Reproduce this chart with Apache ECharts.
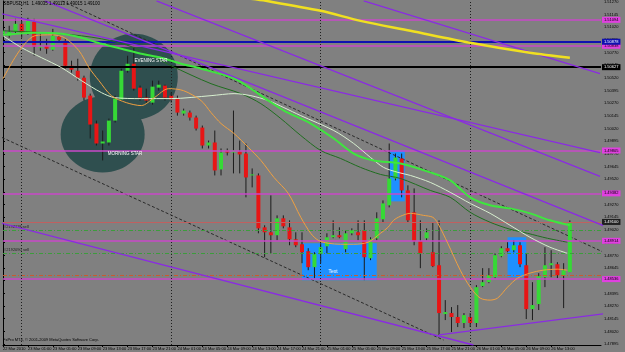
<!DOCTYPE html>
<html><head><meta charset="utf-8">
<script src="https://cdn.jsdelivr.net/npm/echarts@6/dist/echarts.min.js"></script>
<style>html,body{margin:0;padding:0;background:#808080}#c{width:625px;height:352px}</style>
</head><body><div id="c"></div>
<script>
// ---- data ----
const timeLabels = ["22 Mar 2010","23 Mar 01:00","23 Mar 05:00","23 Mar 09:00","23 Mar 13:00","23 Mar 17:00","23 Mar 21:00","24 Mar 01:00","24 Mar 05:00","24 Mar 09:00","24 Mar 13:00","24 Mar 17:00","24 Mar 21:00","25 Mar 01:00","25 Mar 05:00","25 Mar 09:00","25 Mar 13:00","25 Mar 17:00","25 Mar 21:00","26 Mar 01:00","26 Mar 05:00","26 Mar 09:00","26 Mar 13:00"];
const timeTickBars = [0,4,8,12,16,20,24,28,32,36,40,44,48,52,56,60,64,68,72,76,80,84,88];
const priceTicks = [1.47895,1.48020,1.48145,1.48270,1.48395,1.48520,1.48645,1.48770,1.48895,1.49020,1.49145,1.49270,1.49395,1.49520,1.49645,1.49770,1.49895,1.50020,1.50145,1.50270,1.50395,1.50520,1.50645,1.50770,1.50895,1.51020,1.51145,1.51270];
const priceMin = 1.47886, priceMax = 1.51281;
// [open, close, low, high] per H1 bar
const candles = [
 [1.50956,1.50986,1.50937,1.51005],[1.50937,1.50976,1.50917,1.51035],[1.50976,1.51055,1.50956,1.51104],[1.51055,1.50956,1.50917,1.51084],
 [1.50956,1.51084,1.50946,1.51114],[1.51074,1.50828,1.50740,1.51104],[1.50819,1.50838,1.50789,1.50956],[1.50838,1.50809,1.50759,1.50907],
 [1.50799,1.50937,1.50789,1.51005],[1.50927,1.50897,1.50868,1.50937],[1.50887,1.50641,1.50612,1.50907],[1.50641,1.50602,1.50573,1.50691],
 [1.50592,1.50523,1.50494,1.50710],[1.50523,1.50327,1.50297,1.50543],[1.50346,1.50061,1.49923,1.50366],[1.50071,1.49874,1.49854,1.50100],
 [1.49874,1.49894,1.49707,1.50002],[1.49884,1.50100,1.49854,1.50120],[1.50100,1.50317,1.50081,1.50346],[1.50307,1.50592,1.50297,1.50612],
 [1.50592,1.50661,1.50573,1.50740],[1.50661,1.50415,1.50395,1.50858],[1.50425,1.50327,1.50297,1.50445],[1.50327,1.50297,1.50277,1.50415],
 [1.50277,1.50435,1.50258,1.50494],[1.50425,1.50454,1.50395,1.50494],[1.50445,1.50327,1.50297,1.50454],[1.50346,1.50307,1.50277,1.50376],
 [1.50317,1.50179,1.50149,1.50346],[1.50169,1.50199,1.50149,1.50218],[1.50179,1.50130,1.50100,1.50199],[1.50130,1.50021,1.50002,1.50149],
 [1.50031,1.49854,1.49825,1.50051],[1.49854,1.49884,1.49825,1.49903],[1.49884,1.49608,1.49559,1.50002],[1.49618,1.49785,1.49559,1.49825],
 [1.49805,1.49785,1.49756,1.49825],[1.49785,1.49805,1.49579,1.50199],[1.49795,1.49766,1.49579,1.49903],[1.49775,1.49539,1.49343,1.49874],
 [1.49559,1.49569,1.49441,1.49628],[1.49559,1.49037,1.48988,1.49579],[1.49047,1.48998,1.48752,1.49067],[1.48998,1.48969,1.48791,1.49362],
 [1.48969,1.49136,1.48919,1.49165],[1.49136,1.49057,1.49037,1.49165],[1.49047,1.48929,1.48870,1.49116],[1.48929,1.48870,1.48851,1.48998],
 [1.48880,1.48801,1.48693,1.48998],[1.48811,1.48654,1.48624,1.48841],[1.48654,1.48782,1.48545,1.48801],[1.48782,1.48851,1.48693,1.48890],
 [1.48860,1.48949,1.48791,1.48988],[1.48949,1.48969,1.48939,1.49116],[1.48969,1.48949,1.48939,1.49047],[1.48831,1.48988,1.48801,1.49018],
 [1.48988,1.49018,1.48969,1.49037],[1.48998,1.48969,1.48919,1.49116],[1.49018,1.48752,1.48526,1.49116],[1.48742,1.48929,1.48723,1.48949],
 [1.48939,1.49136,1.48919,1.49195],[1.49126,1.49283,1.49097,1.49313],[1.49264,1.49529,1.49244,1.49874],[1.49529,1.49736,1.49510,1.49775],
 [1.49726,1.49411,1.49343,1.49775],[1.49411,1.49116,1.49097,1.49461],[1.49195,1.48910,1.48870,1.49431],[1.48910,1.48791,1.48644,1.49116],
 [1.48939,1.48998,1.48919,1.49037],[1.48801,1.48664,1.48654,1.49097],[1.48673,1.48201,1.47985,1.49116],[1.48191,1.48211,1.48132,1.48329],
 [1.48201,1.48162,1.48014,1.48260],[1.48162,1.48103,1.48063,1.48280],[1.48103,1.48181,1.48053,1.48201],[1.48162,1.48103,1.48063,1.48201],
 [1.48103,1.48457,1.48063,1.48477],[1.48467,1.48506,1.48457,1.48644],[1.48506,1.48575,1.48496,1.48644],[1.48555,1.48772,1.48545,1.48791],
 [1.48762,1.48841,1.48752,1.48860],[1.48841,1.48811,1.48801,1.48900],[1.48821,1.48870,1.48801,1.48919],[1.48870,1.48683,1.48654,1.48900],
 [1.48673,1.48240,1.48142,1.48791],[1.48240,1.48280,1.48132,1.48506],[1.48290,1.48565,1.48231,1.48595],[1.48555,1.48673,1.48457,1.48851],
 [1.48673,1.48693,1.48555,1.48821],[1.48683,1.48575,1.48545,1.48703],[1.48575,1.48624,1.48250,1.48693],[1.48605,1.49097,1.48605,1.49116]
];
// moving averages: [bar, price]
const maOrange = [[0,1.50514],[1.9,1.50720],[3.5,1.50858],[5.1,1.50937],[7.8,1.50946],[9.9,1.50917],[12.2,1.50789],[13.8,1.50622],[15.4,1.50494],[17.4,1.50346],[19.8,1.50277],[22.2,1.50248],[24.3,1.50327],[26.6,1.50415],[29,1.50395],[31.8,1.50297],[33.4,1.50179],[35,1.50071],[37.1,1.49972],[39.4,1.49835],[41.4,1.49707],[43.5,1.49539],[45.8,1.49382],[47.8,1.49146],[49.4,1.48988],[50.6,1.48919],[52.2,1.48890],[54.2,1.48880],[56.3,1.48880],[58.6,1.48900],[60.6,1.48988],[61.8,1.49047],[62.7,1.49116],[63.8,1.49156],[65.4,1.49185],[67.5,1.49165],[69,1.49146],[69.8,1.49087],[71.4,1.48890],[73.4,1.48624],[75,1.48457],[76.6,1.48349],[78.2,1.48329],[79.4,1.48349],[81,1.48457],[82.6,1.48545],[84.6,1.48595],[86.7,1.48624],[89,1.48634],[90.6,1.48624]];
const maPale = [[0,1.50937],[3,1.50819],[6.2,1.50720],[9.4,1.50622],[12.6,1.50494],[15.8,1.50376],[17.9,1.50327],[22.2,1.50317],[27,1.50317],[33.4,1.50346],[37.1,1.50366],[39.8,1.50346],[42.6,1.50297],[45.1,1.50228],[47.8,1.50149],[53.1,1.50002],[56.3,1.49874],[59,1.49736],[61.1,1.49638],[63.4,1.49589],[65.4,1.49559],[68.6,1.49490],[71.8,1.49392],[75,1.49283],[78.2,1.49185],[81.4,1.49067],[84.6,1.48949],[87.8,1.48851],[90.6,1.48791]];
const maGreen = [[0,1.50946],[5.1,1.50966],[9.4,1.50956],[12.6,1.50917],[15.8,1.50858],[19,1.50809],[22.2,1.50759],[25.4,1.50720],[28.6,1.50661],[31.8,1.50612],[37.1,1.50514],[39.8,1.50415],[42.6,1.50297],[45.1,1.50199],[49.4,1.50071],[53.1,1.49923],[56.3,1.49775],[59.5,1.49707],[63.8,1.49677],[68.6,1.49589],[71.8,1.49510],[75,1.49343],[78.2,1.49264],[81.4,1.49234],[84.6,1.49185],[87.8,1.49116],[91,1.49067]];
const maDarkGreen = [[0,1.50986],[9.4,1.50956],[15.8,1.50907],[21.1,1.50819],[27,1.50641],[33.4,1.50464],[38.2,1.50366],[41.4,1.50267],[44.6,1.50120],[47.8,1.49953],[51,1.49805],[54.2,1.49726],[57.4,1.49638],[60.6,1.49569],[63.8,1.49529],[68.6,1.49411],[71.8,1.49343],[75,1.49195],[78.2,1.49097],[81.4,1.49028],[84.2,1.48988],[87.4,1.48939],[90.6,1.48900]];
const maYellow = [[39.8,1.51301],[42.2,1.51281],[51,1.51183],[57.4,1.51084],[65.4,1.50986],[75,1.50868],[84.6,1.50769],[91,1.50720]];
// trend lines: [[bar, price],[bar, price]]
const trendPurple = [
 [[57.9,1.51281],[95.84,1.50563]],
 [[24.64,1.51281],[95.84,1.49549]],
 [[-0.16,1.51153],[95.84,1.49785]],
 [[6.72,1.51281],[97.44,1.49037]],
 [[-0.16,1.49087],[75.52,1.47886]],
 [[70,1.47985],[97.44,1.48201]]
];
const trendDashed = [
 [[9.44,1.51281],[97.44,1.48772]],
 [[-0.16,1.49933],[70.72,1.47935]]
];
// horizontal levels
const levelsMagenta = [1.51094,1.50838,1.49805,1.49382,1.48914,1.48536];
const levelBlue = 1.50878;
const levelBlack = 1.50627;
const bidPrice = 1.49100;
const sellOrders = [1.49018,1.48792];
const sellOrderNames = ['#2192118 sell','#2192090 sell'];
const stopLevel = 1.48575;
const dayStarts = [3,27,51,75];
// zones: [barFrom, barTo, priceTop, priceBottom]
const zoneBoxes = [[62,64.5,1.49805,1.49303],[81,84,1.48949,1.48555],[48,60,1.48890,1.48526]];
// pattern circles: [bar, price]
const patternCircles = [[21,1.50533],[16,1.49962]];
const circleRadii = [[44,43],[42,38]];
// text notes: [bar, price] + text
const notePoints = [[21.1,1.50691],[16.8,1.49775],[53,1.48605]];
const noteTexts = ['EVENING STAR','MORNING STAR','Text'];

// ---- chart ----
const FONT = '"Liberation Sans", Arial, sans-serif';
const BULL = '#36d936', BEAR = '#e81515';
const chart = echarts.init(document.getElementById('c'));

function hLine(v, color, width, type, bg, fg) {
  return {yAxis: v, lineStyle: {color: color, width: width, type: type},
    label: {show: !!bg, position: 'end', formatter: v.toFixed(5), backgroundColor: bg, color: fg,
      fontSize: 4, fontFamily: FONT, padding: [1, 2], distance: 1}};
}
const markData = [];
levelsMagenta.forEach(v => markData.push(hLine(v, '#c848c8', 1.5, 'solid', '#e040e0', '#000')));
markData.push(hLine(levelBlue, '#1010b0', 2, 'solid', '#1010b0', '#fff'));
markData.push(hLine(levelBlack, '#000', 2, 'solid', '#000', '#fff'));
markData.push(hLine(bidPrice, '#c06060', 1, 'solid', '#202020', '#fff'));
sellOrders.forEach((v, k) => markData.push({yAxis: v, lineStyle: {color: '#3c9c3c', width: 1, type: [4, 2, 1, 2]},
  label: {show: true, position: 'insideStartTop', formatter: sellOrderNames[k], color: '#202020', fontSize: 4, fontFamily: FONT, distance: 1}}));
markData.push({yAxis: stopLevel, lineStyle: {color: '#c85a30', width: 1, type: [4, 2, 1, 2]}, label: {show: false}});
dayStarts.forEach(d => markData.push({xAxis: d, lineStyle: {color: '#1e1e1e', width: 1, type: [1, 2]}, label: {show: false}}));

const series = [];
series.push({type: 'custom', name: 'zones', z: 1, clip: true, data: zoneBoxes, encode: {x: [0, 1], y: [2, 3]},
  renderItem: (p, api) => {
    const a = api.coord([api.value(0), api.value(2)]), b = api.coord([api.value(1), api.value(3)]);
    return {type: 'rect', shape: {x: a[0], y: a[1], width: b[0] - a[0], height: b[1] - a[1]}, style: {fill: '#1e90ff'}};
  }});
series.push({type: 'custom', name: 'patterns', z: 1, clip: true, data: patternCircles, encode: {x: 0, y: 1},
  renderItem: (p, api) => {
    const c = api.coord([api.value(0), api.value(1)]); const r = circleRadii[p.dataIndex];
    return {type: 'ellipse', shape: {cx: c[0], cy: c[1], rx: r[0], ry: r[1]}, style: {fill: '#2f4f4f'}};
  }});
series.push({type: 'line', name: 'levels', z: 2, data: [], markLine: {symbol: ['none', 'none'], precision: 6, silent: true, animation: false, data: markData}});
trendDashed.forEach(t => series.push({type: 'line', z: 3, data: t, symbol: 'none', clip: true, lineStyle: {color: '#2a2a2a', width: 1, type: [3, 2]}}));
series.push({type: 'custom', name: 'GBPUSD', z: 4, clip: true,
  data: candles.map((d, i) => [i, d[0], d[1], d[2], d[3]]), encode: {x: 0, y: [1, 2, 3, 4]},
  renderItem: (p, api) => {
    const i = api.value(0), o = api.value(1), c = api.value(2), l = api.value(3), h = api.value(4);
    const pO = api.coord([i, o]), pC = api.coord([i, c]), pL = api.coord([i, l]), pH = api.coord([i, h]);
    const x = pO[0];
    const top = Math.min(pO[1], pC[1]), bot = Math.max(pO[1], pC[1]);
    return {type: 'group', children: [
      {type: 'line', shape: {x1: x, y1: pH[1], x2: x, y2: pL[1]}, style: {stroke: '#1c1c1c', lineWidth: 1}},
      {type: 'rect', shape: {x: x - 2, y: top, width: 4, height: Math.max(bot - top, 1)}, style: {fill: c >= o ? BULL : BEAR}}
    ]};
  }});
trendPurple.forEach(t => series.push({type: 'line', z: 5, data: t, symbol: 'none', clip: true, lineStyle: {color: '#8a2be2', width: 1.3}}));
[[maDarkGreen, '#1f6e1f', 1], [maPale, '#d8f0d0', 1], [maGreen, '#3ee63e', 2], [maOrange, '#f0a040', 1], [maYellow, '#f0e020', 2.5]]
  .forEach(m => series.push({type: 'line', z: 6, data: m[0], symbol: 'none', smooth: 0.3, clip: true, lineStyle: {color: m[1], width: m[2]}}));
series.push({type: 'custom', name: 'notes', z: 7, clip: false, data: notePoints, encode: {x: 0, y: 1},
  renderItem: (p, api) => {
    const c = api.coord([api.value(0), api.value(1)]); const t = noteTexts[p.dataIndex];
    return {type: 'text', x: c[0], y: c[1], style: {text: t, fill: '#ffffff', font: (t === 'Text' ? '5px ' : '4.5px ') + FONT,
      align: t === 'Text' ? 'center' : 'left', verticalAlign: 'middle'}};
  }});

chart.setOption({
  backgroundColor: '#808080',
  animation: false,
  grid: {left: 1, top: 0, width: 600, height: 345},
  xAxis: {type: 'value', min: 0, max: 96,
    axisLine: {show: true, onZero: false, lineStyle: {color: '#000', width: 1}},
    splitLine: {show: false},
    axisTick: {show: true, customValues: timeTickBars, length: 2, lineStyle: {color: '#000'}},
    axisLabel: {customValues: timeTickBars, formatter: v => timeLabels[Math.round(v / 4)] || '', fontSize: 4, fontFamily: FONT,
      color: '#000', align: 'left', margin: 2}},
  yAxis: {type: 'value', position: 'right', min: priceMin, max: priceMax,
    axisLine: {show: true, lineStyle: {color: '#000', width: 1}},
    splitLine: {show: false},
    axisTick: {show: true, customValues: priceTicks, length: 2, lineStyle: {color: '#000'}},
    axisLabel: {customValues: priceTicks, formatter: v => v.toFixed(5), fontSize: 4, fontFamily: FONT, color: '#000', margin: 3}},
  graphic: [
    {type: 'text', left: 3, top: 1, z: 100, style: {text: 'GBPUSD,H1  1.49035 1.49113 1.49015 1.49100', fill: '#000', font: '4.5px ' + FONT}},
    {type: 'text', left: 3, top: 338, z: 100, style: {text: 'FxPro MT4, \u00a9 2001-2009 MetaQuotes Software Corp.', fill: '#000', font: '4px ' + FONT}}
  ],
  series: series
});
</script>
</body></html>
